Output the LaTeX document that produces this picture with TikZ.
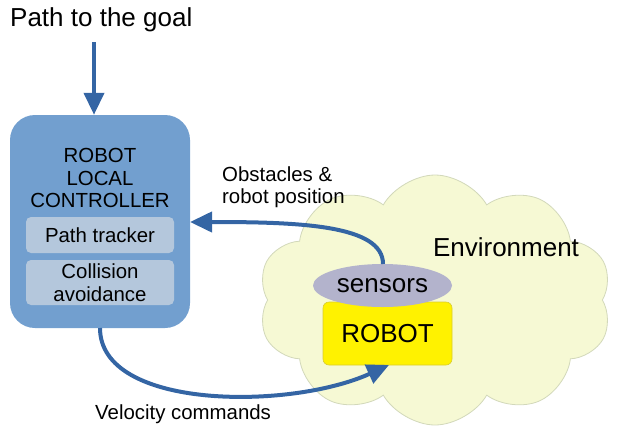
\documentclass[tikz,border=0pt]{standalone}
\usepackage{fontspec}
\setmainfont{Liberation Sans}
\usetikzlibrary{shapes.geometric,shapes.symbols,arrows.meta}
\definecolor{arrowblue}{HTML}{3465A4}
\definecolor{ctrlblue}{HTML}{729FCF}
\definecolor{subblue}{HTML}{B4C7DC}
\definecolor{cloudfill}{HTML}{F6F9D4}
\definecolor{cloudline}{HTML}{D2D8BA}
\definecolor{sensfill}{HTML}{B3B3CC}
\definecolor{robline}{HTML}{D8CC30}
\tikzset{
  big/.style={font=\fontsize{26}{30}\selectfont},
  mid/.style={font=\fontsize{20.4}{22.5}\selectfont},
  conn/.style={draw=arrowblue, line width=4pt, -{Triangle[length=22pt,width=20pt]}},
  subbox/.style={draw=none, fill=subblue, rounded corners=5pt, minimum width=148pt, inner sep=0pt, align=center, mid},
}
\begin{document}
\begin{tikzpicture}[x=1pt,y=-1pt]
\useasboundingbox (0,0) rectangle (620,437);
% title
\node[big, anchor=west, inner sep=0pt] (title) at (10,20) {Path to the goal};
% controller
\node[fill=ctrlblue, rounded corners=25pt, minimum width=180pt, minimum height=213pt, inner sep=0pt] (ctrl) at (100,221.5) {};
\node[mid, align=center, inner sep=0pt] (ctitle) at (100,178) {ROBOT\\LOCAL\\CONTROLLER};
\node[subbox, minimum height=36pt] (tracker) at (100,235) {Path tracker};
\node[subbox, minimum height=45pt] (collision) at (100,282.5) {Collision\\avoidance};
% environment cloud
\node[cloud, cloud puffs=10, cloud puff arc=120, aspect=1.42, minimum width=354pt, minimum height=250pt, fill=cloudfill, draw=cloudline, line width=0.8pt] (env) at (435,300) {};
\node[big, inner sep=0pt] (envlabel) at (506,247) {Environment};
% robot
\node[fill=yellow, draw=robline, line width=0.6pt, rounded corners=6pt, minimum width=129pt, minimum height=63pt, inner sep=0pt, big] (robot) at (387.5,333.5) {ROBOT};
\node[ellipse, fill=sensfill, minimum width=139pt, minimum height=43pt, inner sep=0pt, big] (sensors) at (382.5,285.5) {sensors};
% arrows
\coordinate (ax) at (94,0);
\coordinate (titleBottom) at (94,42);
\draw[conn] (titleBottom) -- (ctrl.north -| ax);
\coordinate (sensTop) at (383,264);
\coordinate (ctrlRight) at (190,222);
\draw[conn] (sensTop) .. controls (383,225) and (300,222) .. (ctrlRight);
\coordinate (ctrlBottom) at (100,328);
\coordinate (robotHit) at (389,365);
\draw[conn] (ctrlBottom) .. controls (100,410) and (290,410) .. (robotHit);
% labels
\node[mid, anchor=west, align=left, inner sep=0pt] (obslabel) at (222,187) {Obstacles \&\\robot position};
\node[mid, anchor=west, inner sep=0pt] (vellabel) at (95,414) {Velocity commands};
\end{tikzpicture}
\end{document}
